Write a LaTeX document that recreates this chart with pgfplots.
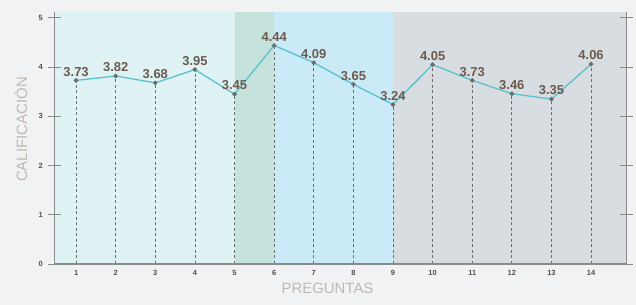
\documentclass[border=0pt]{standalone}
\usepackage{pgfplots}
\pgfplotsset{compat=1.18}
\usepackage{fontspec}
\setmainfont{Liberation Sans}
\definecolor{bg}{HTML}{F1F2F4}
\definecolor{regA}{HTML}{DFF3F5}
\definecolor{regB}{HTML}{C6E2DC}
\definecolor{regC}{HTML}{CBEAF7}
\definecolor{regD}{HTML}{D8DDE1}
\definecolor{linec}{HTML}{5BC2CF}
\definecolor{labc}{HTML}{6B5A4E}
\definecolor{axgrey}{HTML}{8A8A8A}
\definecolor{dropc}{HTML}{6D6D6D}
\definecolor{tickc}{HTML}{5A4C44}
\definecolor{titlec}{HTML}{C1B9B1}
\pgfplotstableread{
x y
1 3.73
2 3.82
3 3.68
4 3.95
5 3.45
6 4.44
7 4.09
8 3.65
9 3.24
10 4.05
11 3.73
12 3.46
13 3.35
14 4.06
}\datatable
\begin{document}
\begin{tikzpicture}
\fill[bg] (0bp,0bp) rectangle (636bp,305bp);
\begin{axis}[
  at={(54.7bp,41bp)}, anchor=south west,
  scale only axis, width=572bp, height=252bp,
  xmin=0.46, xmax=14.9, ymin=0, ymax=5.12,
  axis on top,
  axis line style={draw=none},
  xtick={1,...,14}, ytick={0,...,5},
  x tick style={draw=none},
  y tick style={axgrey, line width=1bp},
  major tick length=13bp, tick align=center,
  tick label style={font=\fontsize{7.5}{8}\selectfont\bfseries, text=tickc},
  /pgf/number format/assume math mode=true,
  xticklabel style={anchor=center, inner sep=0pt, yshift=-2bp},
  yticklabel style={anchor=center, inner sep=0pt, xshift=-7.5bp},
  clip=false,
]
\fill[regA] (axis cs:0.46,0) rectangle (axis cs:5,5.12);
\fill[regB] (axis cs:5,0) rectangle (axis cs:6,5.12);
\fill[regC] (axis cs:6,0) rectangle (axis cs:9,5.12);
\fill[regD] (axis cs:9,0) rectangle (axis cs:14.9,5.12);
\addplot[ycomb, dropc, line width=0.8bp, dash pattern=on 3bp off 2.5bp, forget plot] table[x=x,y=y] {\datatable};
\addplot[linec, line width=1.3bp, mark=*, mark size=1.6bp,
  mark options={fill=dropc, draw=dropc},
  nodes near coords,
  nodes near coords style={font=\fontsize{13}{13}\selectfont\bfseries, text=labc, anchor=south, inner sep=1.5bp, yshift=2bp},
  point meta=explicit symbolic] table[x=x,y=y,meta=y] {\datatable};
\draw[axgrey, line width=1.3bp] (axis cs:0.46,5.12) -- (axis cs:0.46,0) -- (axis cs:14.9,0) -- (axis cs:14.9,5.12);
\end{axis}
\node[font=\fontsize{15}{15}\selectfont, text=titlec] at (327.5bp,16.5bp) {PREGUNTAS};
\node[font=\fontsize{15}{15}\selectfont, text=titlec, rotate=90] at (20.8bp,175.5bp) {CALIFICACIÓN};
\pgfresetboundingbox
\useasboundingbox (0bp,0bp) rectangle (636bp,305bp);
\end{tikzpicture}
\end{document}
